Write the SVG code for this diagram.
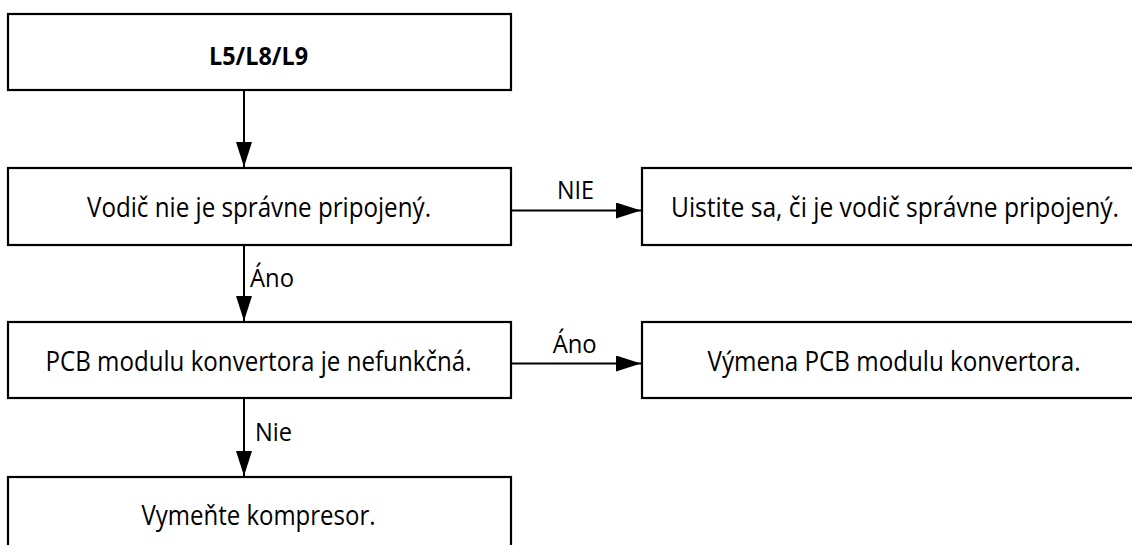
<svg xmlns="http://www.w3.org/2000/svg" width="1132" height="545" viewBox="0 0 1132 545">
<style>
.box{fill:#fff;stroke:#000;stroke-width:2.2}
.t{font-family:"Open Sans","Liberation Sans",sans-serif;font-size:26.5px;fill:#000;text-anchor:middle}
.b{font-weight:bold;font-size:25px}
.lbl{font-family:"Open Sans","Liberation Sans",sans-serif;font-size:26px;fill:#000}
.c{stroke:#000;stroke-width:2;fill:none;marker-end:url(#ah)}
</style>
<defs>
<marker id="ah" markerUnits="userSpaceOnUse" markerWidth="26" markerHeight="17" refX="25" refY="8" orient="auto">
<path d="M0,0 L25,8 L0,16 z" fill="#000"/>
</marker>
</defs>
<rect width="1132" height="545" fill="#fff"/>
<g id="n1"><rect class="box" x="8" y="14" width="503" height="76"/><text class="t b" x="258.5" y="65" textLength="99" lengthAdjust="spacingAndGlyphs">L5/L8/L9</text></g>
<g id="n2"><rect class="box" x="8" y="168" width="503" height="77"/><text class="t" x="259" y="216.5" textLength="344" lengthAdjust="spacingAndGlyphs">Vodič nie je správne pripojený.</text></g>
<g id="n3"><rect class="box" x="642" y="168" width="504" height="77"/><text class="t" x="895" y="216.5" textLength="448" lengthAdjust="spacingAndGlyphs">Uistite sa, či je vodič správne pripojený.</text></g>
<g id="n4"><rect class="box" x="8" y="322" width="503" height="76"/><text class="t" x="258.5" y="370.5" textLength="426" lengthAdjust="spacingAndGlyphs">PCB modulu konvertora je nefunkčná.</text></g>
<g id="n5"><rect class="box" x="642" y="322" width="504" height="76"/><text class="t" x="894" y="370.5" textLength="373" lengthAdjust="spacingAndGlyphs">Výmena PCB modulu konvertora.</text></g>
<g id="n6"><rect class="box" x="8" y="477" width="503" height="76"/><text class="t" x="258.5" y="525" textLength="234" lengthAdjust="spacingAndGlyphs">Vymeňte kompresor.</text></g>
<g id="connectors">
<line class="c" x1="244" y1="91" x2="244" y2="167"/>
<line class="c" x1="511" y1="210.5" x2="641" y2="210.5"/>
<text class="lbl" x="575.5" y="199" text-anchor="middle" textLength="37" lengthAdjust="spacingAndGlyphs">NIE</text>
<line class="c" x1="244" y1="246" x2="244" y2="321"/>
<text class="lbl" x="250" y="287" textLength="44" lengthAdjust="spacingAndGlyphs">Áno</text>
<line class="c" x1="511" y1="363.5" x2="641" y2="363.5"/>
<text class="lbl" x="574.7" y="353" text-anchor="middle" textLength="44" lengthAdjust="spacingAndGlyphs">Áno</text>
<line class="c" x1="244" y1="399" x2="244" y2="476"/>
<text class="lbl" x="255" y="441" textLength="37" lengthAdjust="spacingAndGlyphs">Nie</text>
</g>
</svg>
